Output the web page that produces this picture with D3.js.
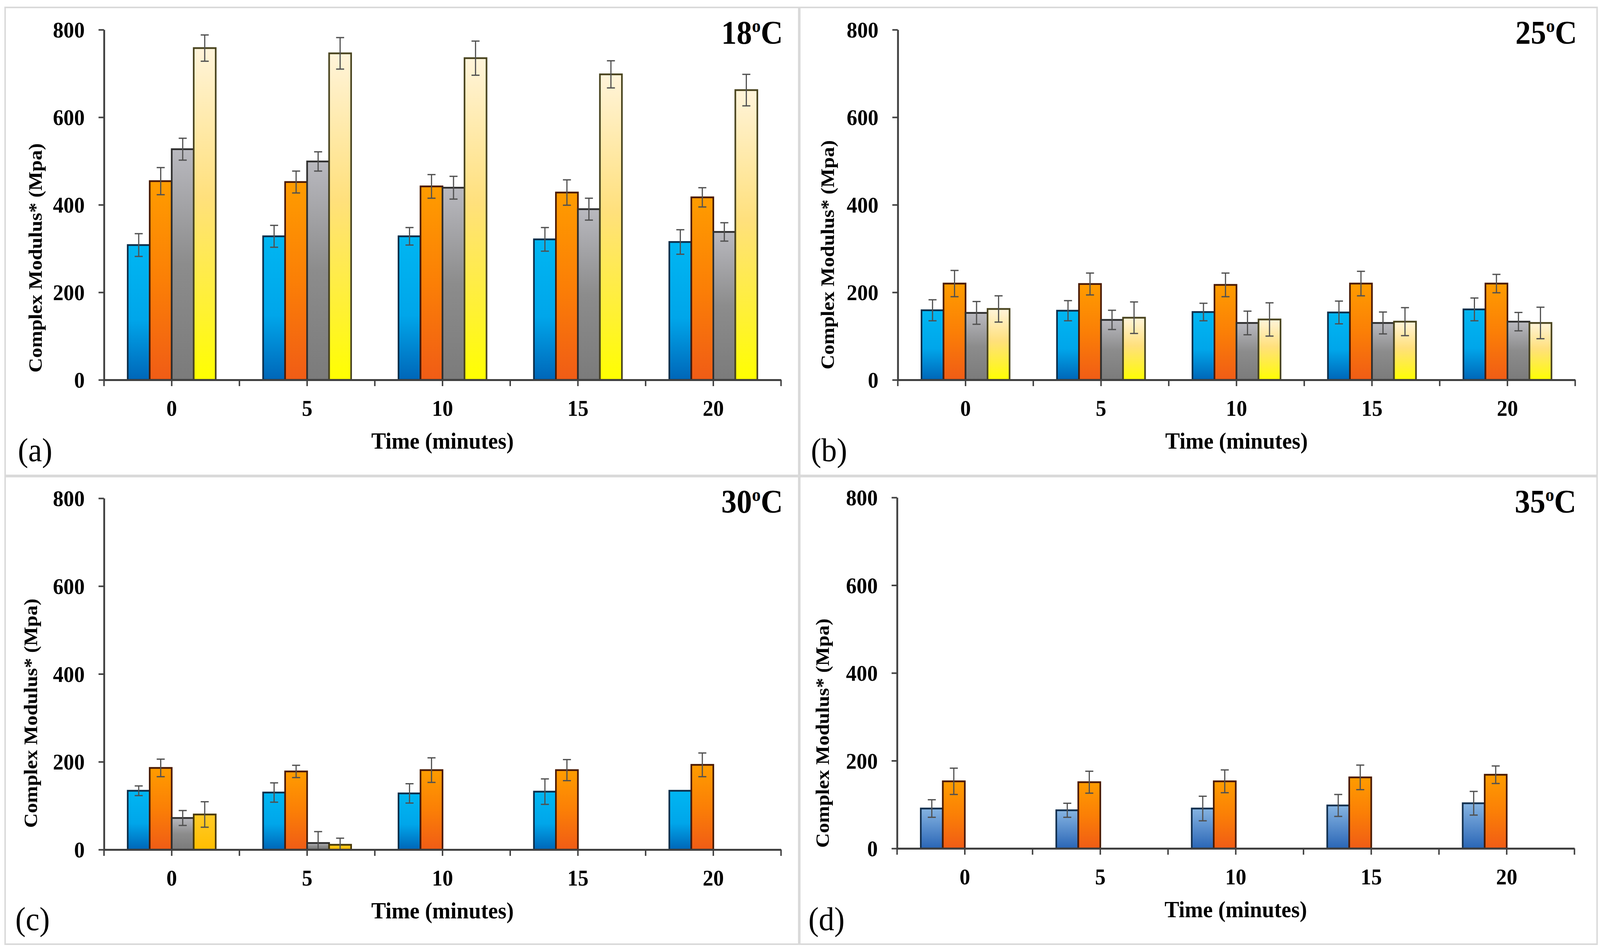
<!DOCTYPE html>
<html>
<head>
<meta charset="utf-8">
<script src="https://cdn.jsdelivr.net/npm/d3@7"></script>
<style>
  html, body { margin: 0; padding: 0; background: #ffffff; overflow: hidden; width: 100%; height: 100%; }
  svg { display: block; position: absolute; left: 0; top: 0; width: 100vw; height: 100vh; }
</style>
</head>
<body>
<script>
// ---------------- DATA ----------------
const TIMES = ["0", "5", "10", "15", "20"];
const SERIES = ["Series 1", "Series 2", "Series 3", "Series 4"];
const Y_TICKS = [0, 200, 400, 600, 800];
const TEMPS = ["18", "25", "30", "35"];
const PANEL_LETTERS = ["(a)", "(b)", "(c)", "(d)"];
const X_TITLE = "Time (minutes)";
const Y_TITLE = "Complex Modulus* (Mpa)";

// 18 °C
const t18_s1 = [308, 328, 328, 321, 315];
const t18_s2 = [454, 452, 442, 428, 417];
const t18_s3 = [527, 499, 439, 390, 338];
const t18_s4 = [758, 746, 735, 698, 662];
const t18_e1 = [26, 25, 20, 27, 28];
const t18_e2 = [31, 25, 27, 29, 22];
const t18_e3 = [25, 22, 26, 25, 21];
const t18_e4 = [30, 36, 39, 31, 36];

// 25 °C
const t25_s1 = [159, 158, 155, 154, 161];
const t25_s2 = [220, 219, 217, 220, 220];
const t25_s3 = [153, 137, 130, 130, 133];
const t25_s4 = [162, 142, 138, 133, 130];
const t25_e1 = [24, 23, 20, 26, 26];
const t25_e2 = [30, 25, 27, 28, 21];
const t25_e3 = [26, 22, 27, 25, 21];
const t25_e4 = [30, 36, 38, 32, 36];

// 30 °C
const t30_s1 = [134, 130, 128, 132, 134];
const t30_s2 = [186, 178, 181, 181, 193];
const t30_s3 = [72, 15, null, null, null];
const t30_s4 = [80, 11, null, null, null];
const t30_e1 = [11, 22, 22, 29, 0];
const t30_e2 = [20, 14, 28, 24, 27];
const t30_e3 = [17, 26, null, null, null];
const t30_e4 = [29, 15, null, null, null];

// 35 °C
const t35_s1 = [91, 87, 91, 98, 103];
const t35_s2 = [153, 151, 153, 162, 168];
const t35_s3 = [null, null, null, null, null];
const t35_s4 = [null, null, null, null, null];
const t35_e1 = [20, 16, 28, 25, 27];
const t35_e2 = [30, 25, 26, 28, 20];
const t35_e3 = [null, null, null, null, null];
const t35_e4 = [null, null, null, null, null];

// ---------------- STYLE / LAYOUT ----------------
const W = 4384, H = 2436;
const FONT = "'Liberation Serif', 'Times New Roman', serif";
const AXIS_COLOR = "#404040";

const gradStops = {
  blue:   [[0, "#00b6f2"], [0.55, "#00a6ea"], [1, "#0066b8"]],
  orange: [[0, "#ff9c00"], [0.5, "#fb7f06"], [1, "#f05c16"]],
  gray:   [[0, "#b9b9bf"], [0.5, "#8c8c8c"], [1, "#7b7b7b"]],
  yellow: [[0, "#fff4da"], [0.45, "#ffe07c"], [0.8, "#fff230"], [1, "#ffff00"]],
  gold:   [[0, "#ffca28"], [1, "#ffbe00"]],
  steel:  [[0, "#86b4e2"], [1, "#2a66b6"]]
};
const strokeCol = {
  blue: "#0d2e4a", orange: "#4a1a02", gray: "#2e2e2e", yellow: "#4a4520",
  gold: "#4a3a05", steel: "#13304f"
};

const panels = [
  { vals: [t18_s1, t18_s2, t18_s3, t18_s4], errs: [t18_e1, t18_e2, t18_e3, t18_e4],
    fills: ["blue", "orange", "gray", "yellow"],
    x0: 285, x1: 2140, yTop: 76, yZero: 972, titleY: 112,
    yl: [115, 660], letter: [49, 1180] },
  { vals: [t25_s1, t25_s2, t25_s3, t25_s4], errs: [t25_e1, t25_e2, t25_e3, t25_e4],
    fills: ["blue", "orange", "gray", "yellow"],
    x0: 2460, x1: 4316, yTop: 76, yZero: 972, titleY: 112,
    yl: [2285, 652], letter: [2222, 1180] },
  { vals: [t30_s1, t30_s2, t30_s3, t30_s4], errs: [t30_e1, t30_e2, t30_e3, t30_e4],
    fills: ["blue", "orange", "gray", "gold"],
    x0: 285, x1: 2140, yTop: 1275, yZero: 2174, titleY: 1312,
    yl: [102, 1825], letter: [42, 2380] },
  { vals: [t35_s1, t35_s2, t35_s3, t35_s4], errs: [t35_e1, t35_e2, t35_e3, t35_e4],
    fills: ["steel", "orange", "gray", "yellow"],
    x0: 2458, x1: 4314, yTop: 1273, yZero: 2171, titleY: 1312,
    yl: [2271, 1876], letter: [2215, 2380] }
];

// ---------------- DRAW ----------------
const svg = d3.select("body").append("svg")
  .attr("viewBox", `0 0 ${W} ${H}`)
  .attr("preserveAspectRatio", "none");

svg.append("rect").attr("width", W).attr("height", H).attr("fill", "#ffffff");

const defs = svg.append("defs");
Object.entries(gradStops).forEach(([name, stops]) => {
  const lg = defs.append("linearGradient").attr("id", "g-" + name)
    .attr("x1", 0).attr("y1", 0).attr("x2", 0).attr("y2", 1);
  stops.forEach(([o, c]) => lg.append("stop").attr("offset", o).attr("stop-color", c));
});

// panel frames
svg.append("rect").attr("x", 14).attr("y", 19).attr("width", 4362).attr("height", 2397)
  .attr("fill", "none").attr("stroke", "#d9d9d9").attr("stroke-width", 4);
svg.append("line").attr("x1", 2190).attr("x2", 2190).attr("y1", 19).attr("y2", 2416)
  .attr("stroke", "#d9d9d9").attr("stroke-width", 7);
svg.append("line").attr("x1", 14).attr("x2", 4376).attr("y1", 1218).attr("y2", 1218)
  .attr("stroke", "#d9d9d9").attr("stroke-width", 7);

panels.forEach((p, pi) => {
  const g = svg.append("g");
  const x = d3.scaleBand().domain(TIMES).range([p.x0, p.x1]).padding(0);
  const bw = x.bandwidth();
  const xs = d3.scaleBand().domain(SERIES).range([bw * 0.175, bw * 0.825]).padding(0);
  const y = d3.scaleLinear().domain([0, 800]).range([p.yZero, p.yTop]);

  // bars
  SERIES.forEach((s, si) => {
    const rows = TIMES.map((t, ti) => ({ t, v: p.vals[si][ti], e: p.errs[si][ti] }))
      .filter(d => d.v != null);
    const fk = p.fills[si];
    g.selectAll(null).data(rows).enter().append("rect")
      .attr("x", d => x(d.t) + xs(s))
      .attr("y", d => y(d.v))
      .attr("width", xs.bandwidth())
      .attr("height", d => y(0) - y(d.v))
      .attr("fill", `url(#g-${fk})`)
      .attr("stroke", strokeCol[fk])
      .attr("stroke-width", 4.5);

    // error bars
    const eg = g.selectAll(null).data(rows.filter(d => d.e)).enter().append("g")
      .attr("stroke", "#505050").attr("stroke-width", 3.2);
    const cx = d => x(d.t) + xs(s) + xs.bandwidth() / 2;
    eg.append("line").attr("x1", cx).attr("x2", cx)
      .attr("y1", d => y(d.v + d.e)).attr("y2", d => y(Math.max(0, d.v - d.e)));
    eg.append("line").attr("x1", d => cx(d) - 11).attr("x2", d => cx(d) + 11)
      .attr("y1", d => y(d.v + d.e)).attr("y2", d => y(d.v + d.e));
    eg.filter(d => d.v - d.e > 0).append("line")
      .attr("x1", d => cx(d) - 11).attr("x2", d => cx(d) + 11)
      .attr("y1", d => y(d.v - d.e)).attr("y2", d => y(d.v - d.e));
  });

  // y axis
  const gy = g.append("g").attr("transform", `translate(${p.x0},0)`)
    .call(d3.axisLeft(y).tickValues(Y_TICKS).tickSize(15).tickSizeOuter(0).tickPadding(38));
  gy.select(".domain").attr("stroke", AXIS_COLOR).attr("stroke-width", 5);
  gy.selectAll(".tick line").attr("stroke", AXIS_COLOR).attr("stroke-width", 4);
  gy.selectAll(".tick text").attr("font-family", FONT).attr("font-weight", "bold")
    .attr("font-size", 58).attr("fill", "#000").attr("dy", "0.34em");

  // x axis
  const gx = g.append("g").attr("transform", `translate(0,${p.yZero})`)
    .call(d3.axisBottom(x).tickSize(16).tickSizeOuter(0).tickPadding(0));
  gx.select(".domain").attr("stroke", AXIS_COLOR).attr("stroke-width", 5);
  gx.selectAll(".tick line").attr("stroke", AXIS_COLOR).attr("stroke-width", 4);
  gx.selectAll(".tick text").attr("font-family", FONT).attr("font-weight", "bold")
    .attr("font-size", 58).attr("fill", "#000").attr("y", 92).attr("dy", 0);
  // boundary ticks between categories
  gx.selectAll(null).data(d3.range(TIMES.length + 1)).enter().append("line")
    .attr("x1", i => p.x0 + i * x.step()).attr("x2", i => p.x0 + i * x.step())
    .attr("y1", 0).attr("y2", 16)
    .attr("stroke", AXIS_COLOR).attr("stroke-width", 4);

  // x title
  g.append("text").attr("x", (p.x0 + p.x1) / 2).attr("y", p.yZero + 176)
    .attr("text-anchor", "middle").attr("font-family", FONT).attr("font-weight", "bold")
    .attr("font-size", 60).text(X_TITLE);

  // y title
  g.append("text").attr("transform", `translate(${p.yl[0]},${p.yl[1]}) rotate(-90)`)
    .attr("text-anchor", "middle").attr("font-family", FONT).attr("font-weight", "bold")
    .attr("font-size", 52).text(Y_TITLE);

  // temperature title
  const tt = g.append("text").attr("x", p.x1 + 5).attr("y", p.titleY)
    .attr("text-anchor", "end").attr("font-family", FONT).attr("font-weight", "bold")
    .attr("font-size", 84);
  tt.append("tspan").text(TEMPS[pi]);
  tt.append("tspan").attr("font-size", 48).attr("dy", -30).text("o");
  tt.append("tspan").attr("dy", 30).text("C");

  // panel letter
  g.append("text").attr("x", p.letter[0]).attr("y", p.letter[1])
    .attr("font-family", FONT).attr("font-size", 85).text(PANEL_LETTERS[pi]);
});
</script>
</body>
</html>
